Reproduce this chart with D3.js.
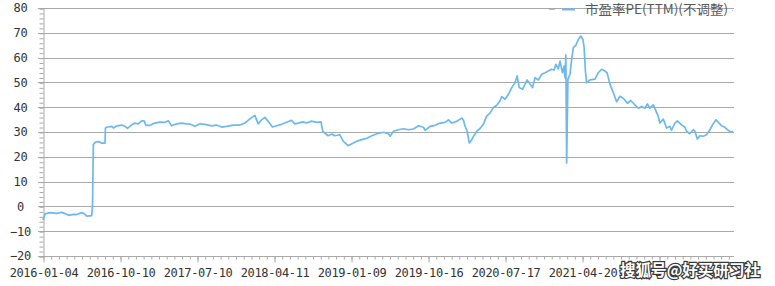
<!DOCTYPE html>
<html>
<head>
<meta charset="utf-8">
<script src="https://cdn.jsdelivr.net/npm/d3@7"></script>
<style>
  body { margin: 0; background: #fff; }
  svg { display: block; }
</style>
</head>
<body>
<svg width="775" height="286"></svg>
<script>
// trading-day index since 2016-01-04, and PE(TTM)
const days = [0, 5, 17, 33, 45, 53, 61, 73, 81, 93, 101, 105, 117, 119, 121, 127, 135, 141, 149, 150,
  153, 165, 169, 178, 189, 197, 203, 213, 221, 229, 237, 243, 247, 257, 269, 281, 293, 301, 309, 321,
  333, 345, 353, 365, 377, 389, 405, 417, 429, 441, 457, 473, 485, 497, 509, 517, 525, 533, 541, 551,
  561, 573, 585, 597, 605, 613, 625, 633, 645, 658, 668, 672, 677, 685, 694, 701, 713, 721, 733, 742,
  754, 766, 778, 790, 802, 818, 830, 834, 842, 854, 866, 878, 890, 902, 914, 918, 930, 942, 954, 966,
  974, 982, 994, 1006, 1010, 1014, 1019, 1024, 1030, 1035, 1042, 1050, 1058, 1066, 1074, 1082, 1090, 1098, 1102, 1110,
  1118, 1126, 1134, 1139, 1144, 1152, 1158, 1163, 1170, 1176, 1182, 1190, 1198, 1206, 1214, 1222, 1228, 1232, 1238, 1242,
  1248, 1252, 1254, 1256, 1258, 1261, 1266, 1270, 1274, 1280, 1286, 1292, 1297, 1300, 1303, 1306, 1314, 1326, 1334, 1342,
  1350, 1355, 1362, 1370, 1378, 1386, 1394, 1404, 1412, 1422, 1430, 1438, 1446, 1452, 1458, 1466, 1473, 1478, 1482, 1490,
  1498, 1506, 1510, 1518, 1524, 1534, 1542, 1546, 1554, 1562, 1566, 1572, 1578, 1586, 1594, 1602, 1610, 1617, 1622, 1630,
  1638, 1646, 1653, 1658];
const pe = [-5.5, -3.0, -2.5, -2.8, -2.4, -2.9, -3.6, -3.2, -3.3, -2.5, -3.2, -3.9, -3.7, 0.5, 25.0, 26.0, 26.1, 25.5, 25.5, 31.6,
  31.9, 32.3, 31.6, 32.5, 32.8, 32.3, 31.5, 32.9, 33.6, 33.3, 34.5, 34.5, 32.7, 32.7, 33.6, 34.0, 33.9, 34.5, 32.5, 33.3,
  33.6, 33.3, 33.2, 32.3, 33.3, 33.1, 32.5, 32.8, 32.0, 32.3, 32.8, 32.8, 33.6, 35.3, 36.7, 33.3, 34.9, 35.9, 34.3, 32.0,
  32.5, 33.1, 33.9, 34.7, 33.3, 33.6, 34.1, 33.6, 34.4, 33.9, 34.1, 30.3, 29.6, 28.5, 29.2, 28.5, 28.9, 26.3, 24.5, 25.3,
  26.3, 26.9, 27.5, 28.5, 29.3, 29.9, 29.3, 28.3, 30.3, 30.9, 31.3, 30.9, 31.2, 32.5, 31.9, 30.7, 32.3, 32.7, 33.6, 33.9,
  34.9, 33.6, 34.3, 35.6, 34.7, 32.3, 30.3, 25.6, 26.9, 28.5, 30.3, 31.4, 33.2, 36.5, 37.6, 39.9, 40.8, 42.6, 44.3, 43.2,
  45.2, 47.9, 49.9, 52.6, 47.9, 47.2, 49.3, 51.0, 49.3, 47.9, 51.9, 51.0, 53.3, 53.9, 54.6, 55.3, 55.0, 57.3, 55.5, 58.6,
  53.9, 56.6, 51.9, 61.0, 17.5, 51.3, 53.3, 59.3, 64.0, 64.9, 67.3, 68.7, 67.3, 64.0, 54.6, 49.9, 51.0, 51.3, 53.9, 55.3,
  54.6, 53.9, 49.3, 45.9, 42.2, 44.4, 43.6, 41.6, 42.7, 40.9, 39.6, 40.3, 39.6, 41.3, 39.6, 40.9, 38.3, 36.3, 33.6, 35.2,
  31.6, 32.3, 30.7, 33.6, 34.5, 32.9, 31.9, 30.3, 29.3, 30.9, 30.3, 27.2, 28.5, 28.3, 28.9, 30.9, 33.3, 34.9, 34.0, 32.5,
  31.9, 30.7, 29.9, 30.3];

const tickDays = [0, 185, 370, 555, 740, 925, 1110, 1295, 1480];
const tickLabels = ['2016-01-04', '2016-10-10', '2017-07-10', '2018-04-11', '2019-01-09',
  '2019-10-16', '2020-07-17', '2021-04-20', ''];
const yTicks = [-20, -10, 0, 10, 20, 30, 40, 50, 60, 70, 80];
const seriesName = '市盈率PE(TTM)(不调整)';
const watermark = '搜狐号@好买研习社';

const svg = d3.select('svg');
const gridColor = '#a9a9a9';
const lineColor = '#6cb9ef';
const mono = '"DejaVu Sans Mono", monospace';

const x = d3.scaleLinear().domain([0, 1660]).range([43, 734]);
const y = d3.scaleLinear().domain([-20, 80]).range([256, 8]);

// horizontal grid
svg.append('g')
  .selectAll('line')
  .data(yTicks)
  .enter().append('line')
    .attr('x1', 38)
    .attr('x2', 734)
    .attr('y1', d => Math.round(y(d)) + 0.5)
    .attr('y2', d => Math.round(y(d)) + 0.5)
    .attr('stroke', gridColor);

// y axis: minor ticks + labels
const yMinor = svg.append('g')
  .attr('transform', 'translate(43.5,0.5)')
  .call(d3.axisLeft(y).tickValues(d3.range(-20, 81, 2)).tickSize(4).tickFormat(''));
yMinor.select('.domain').attr('stroke', gridColor);
yMinor.selectAll('line').attr('stroke', gridColor);

svg.append('g')
  .selectAll('text')
  .data(yTicks)
  .enter().append('text')
    .attr('x', 20.5)
    .attr('y', d => y(d))
    .attr('dy', '0.36em')
    .attr('text-anchor', 'middle')
    .attr('font-family', mono)
    .attr('font-size', 12)
    .attr('letter-spacing', -0.3)
    .attr('fill', '#333')
    .text(d => d3.format('d')(d));

// x axis: minor + major ticks
const xMinor = svg.append('g')
  .attr('transform', 'translate(0.5,256.5)')
  .call(d3.axisBottom(x).tickValues(d3.range(0, 1660, 18.5)).tickSize(3).tickFormat(''));
xMinor.select('.domain').remove();
xMinor.selectAll('line').attr('stroke', gridColor);

const xMajor = svg.append('g')
  .attr('transform', 'translate(0.5,256.5)')
  .call(d3.axisBottom(x).tickValues(tickDays).tickSize(6).tickFormat((d, i) => tickLabels[i]));
xMajor.select('.domain').remove();
xMajor.selectAll('line').attr('stroke', gridColor);
xMajor.selectAll('text')
  .attr('y', 16)
  .attr('dy', '0.36em')
  .attr('font-family', mono)
  .attr('font-size', 12)
  .attr('letter-spacing', -0.35)
  .attr('fill', '#333');

// series line
const line = d3.line()
  .x((d, i) => x(days[i]))
  .y(d => y(d));

svg.append('path')
  .datum(pe)
  .attr('d', line)
  .attr('fill', 'none')
  .attr('stroke', lineColor)
  .attr('stroke-width', 1.7)
  .attr('stroke-linejoin', 'round');

// legend
const legend = svg.append('g');
legend.append('line')
  .attr('x1', 549).attr('x2', 555).attr('y1', 9.5).attr('y2', 9.5)
  .attr('stroke', '#bbb');
legend.append('line')
  .attr('x1', 562).attr('x2', 575).attr('y1', 9.5).attr('y2', 9.5)
  .attr('stroke', lineColor).attr('stroke-width', 2);
legend.append('text')
  .attr('x', 585)
  .attr('y', 14)
  .attr('font-family', '"Noto Sans CJK SC", sans-serif')
  .attr('font-size', 13)
  .attr('textLength', 143)
  .attr('lengthAdjust', 'spacingAndGlyphs')
  .attr('fill', '#595959')
  .text(seriesName);
legend.append('circle')
  .attr('cx', 732.5).attr('cy', 10.5).attr('r', 0.6)
  .attr('fill', '#aaa');

// watermark
svg.append('text')
  .attr('x', 620)
  .attr('y', 276)
  .attr('font-family', '"Noto Sans CJK SC", sans-serif')
  .attr('font-size', 16)
  .attr('font-weight', 'bold')
  .attr('fill', '#fff')
  .attr('stroke', '#3a3a3a')
  .attr('stroke-width', 2.5)
  .attr('paint-order', 'stroke')
  .attr('textLength', 140)
  .attr('lengthAdjust', 'spacingAndGlyphs')
  .text(watermark);
</script>
</body>
</html>
